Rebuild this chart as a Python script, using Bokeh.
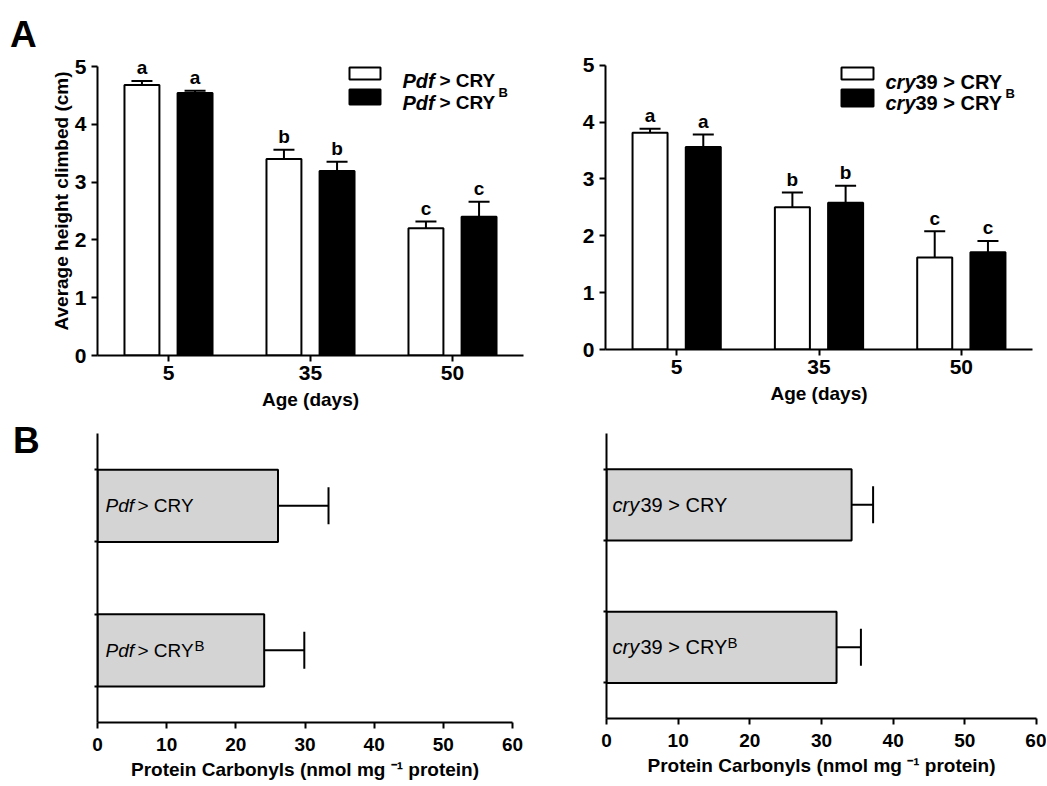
import numpy as np
from bokeh.plotting import figure
from bokeh.models import (Range1d, FixedTicker, Label, Whisker, TeeHead,
                          ColumnDataSource, BoxAnnotation, Div)
from bokeh.layouts import column, row
from bokeh.embed import file_html
from bokeh.resources import INLINE
from bokeh.core.properties import value

# ---------------- data ----------------
ages = ["5", "35", "50"]
letters = ["a", "b", "c"]

pdf_cry = [4.68, 3.40, 2.20]
pdf_cry_err = [0.07, 0.16, 0.12]
pdf_cryb = [4.54, 3.19, 2.40]
pdf_cryb_err = [0.04, 0.16, 0.26]

cry39_cry = [3.81, 2.50, 1.62]
cry39_cry_err = [0.07, 0.26, 0.46]
cry39_cryb = [3.56, 2.58, 1.71]
cry39_cryb_err = [0.22, 0.30, 0.20]

carb_groups = ["CRY", "CRY B"]
carb_pdf = [26.1, 24.1]
carb_pdf_err = [7.3, 5.8]
carb_cry39 = [34.2, 32.1]
carb_cry39_err = [3.0, 3.4]

FONT = "Liberation Sans"


def style_axes(p, tick_size, label_size):
    for ax in (p.xaxis[0], p.yaxis[0]):
        ax.axis_line_width = 2
        ax.axis_line_color = "black"
        ax.major_tick_line_width = 2
        ax.major_tick_line_color = "black"
        ax.major_tick_out = 6
        ax.major_tick_in = 0
        ax.minor_tick_line_color = None
        ax.major_label_text_font = FONT
        ax.major_label_text_font_style = "bold"
        ax.major_label_text_color = "black"
        ax.axis_label_text_font = FONT
        ax.axis_label_text_font_style = "bold"
        ax.axis_label_text_color = "black"
        ax.major_label_standoff = 5
        ax.axis_label_standoff = 6
    p.xaxis.major_label_text_font_size = tick_size[0]
    p.yaxis.major_label_text_font_size = tick_size[1]
    p.xaxis.axis_label_text_font_size = label_size[0]
    p.yaxis.axis_label_text_font_size = label_size[1]
    p.xgrid.grid_line_color = None
    p.ygrid.grid_line_color = None
    p.outline_line_color = None
    p.background_fill_color = "white"
    p.border_fill_color = "white"


def lbl(p, x, y, text, size, style, units="screen", **kw):
    p.add_layout(Label(x=x, y=y, x_units=units, y_units=units, text=text,
                       text_font=FONT, text_font_size=size,
                       text_font_style=style, text_color="black",
                       text_baseline=kw.pop("baseline", "alphabetic"), **kw))


def climb_panel(width, height, mb, y_end, white, white_err, black, black_err, ylabel):
    p = figure(width=width, height=height, output_backend="svg", toolbar_location=None,
               x_range=Range1d(0, 3), y_range=Range1d(0, y_end),
               min_border_left=mb[0], min_border_right=mb[1],
               min_border_top=mb[2], min_border_bottom=mb[3])
    centers = np.arange(len(ages)) + 0.5
    off, bw = 0.187, 0.246
    for vals, errs, fill, sgn in ((white, white_err, "white", -1), (black, black_err, "black", 1)):
        xs = centers + sgn * off
        up = np.array(vals) + np.array(errs)
        src = ColumnDataSource(dict(x=xs, top=vals, up=up, lab=letters))
        p.vbar(x="x", top="top", width=bw, source=src, fill_color=fill,
               line_color="black", line_width=2)
        p.add_layout(Whisker(source=src, base="x", lower="top", upper="up",
                             dimension="height", line_width=2, line_color="black",
                             lower_head=None,
                             upper_head=TeeHead(size=21, line_width=2, line_color="black")))
        p.text(x="x", y="up", text="lab", source=src, text_align="center",
               text_baseline="alphabetic", y_offset=-13, text_font=value(FONT),
               text_font_style="bold", text_font_size="19px", text_color="black")
    p.xaxis.ticker = FixedTicker(ticks=list(centers))
    p.xaxis.major_label_overrides = {float(c): a for c, a in zip(centers, ages)}
    p.yaxis.ticker = FixedTicker(ticks=[0, 1, 2, 3, 4, 5])
    p.yaxis.bounds = (0, 5)
    p.xaxis.axis_label = "Age (days)"
    if ylabel:
        p.yaxis.axis_label = ylabel
    style_axes(p, ("21px", "21px"), ("19px", "19px"))
    p.xaxis.major_label_standoff = 4
    p.yaxis.axis_label_standoff = 0
    return p


def carb_panel(width, height, mb, vals, errs):
    p = figure(width=width, height=height, output_backend="svg", toolbar_location=None,
               x_range=Range1d(0, 60), y_range=Range1d(0, 2),
               min_border_left=mb[0], min_border_right=mb[1],
               min_border_top=mb[2], min_border_bottom=mb[3])
    n = len(vals)
    ys = n - np.arange(n) - 0.5
    src = ColumnDataSource(dict(y=ys, right=vals, up=np.array(vals) + np.array(errs)))
    p.hbar(y="y", right="right", left=0, height=0.5, source=src,
           fill_color="#d4d4d4", line_color="black", line_width=2)
    p.add_layout(Whisker(source=src, base="y", lower="right", upper="up",
                         dimension="width", line_width=2, line_color="black",
                         lower_head=None,
                         upper_head=TeeHead(size=37, line_width=2, line_color="black")))
    p.xaxis.ticker = FixedTicker(ticks=list(range(0, 61, 10)))
    edges = []
    for y in ys:
        edges += [float(y - 0.25), float(y + 0.25)]
    p.yaxis.ticker = FixedTicker(ticks=sorted(edges))
    p.yaxis.major_label_overrides = {e: "" for e in edges}
    p.xaxis.axis_label = "Protein Carbonyls (nmol mg \u207b\u00b9 protein)"
    style_axes(p, ("19px", "10px"), ("19px", "10px"))
    p.yaxis.major_tick_out = 3
    p.xaxis.major_label_standoff = 9
    p.xaxis.axis_label_standoff = 5
    return p


# ---------------- panels ----------------
# frames: p1 y=5 at 66, y=0 at 355 ; p2 y=5 at 64.7, y=0 at 349.3 (frame tops at 46)
p1 = climb_panel(518, 431, (52, 40, 46, 76), 5 + 20 / 57.8,
                 pdf_cry, pdf_cry_err, pdf_cryb, pdf_cryb_err,
                 "Average height climbed (cm)")
p2 = climb_panel(477, 431, (42, 8, 46, 82), 5 + 18.7 / 56.92,
                 cry39_cry, cry39_cry_err, cry39_cryb, cry39_cryb_err, None)
p3 = carb_panel(518, 354, (52, 51, 2, 63), carb_pdf, carb_pdf_err)
p4 = carb_panel(483, 354, (43, 10, 2, 67), carb_cry39, carb_cry39_err)

# legends (top panels)
def legend_boxes(p, x0, x1, wy, by):
    for (b, t), fill in ((wy, "white"), (by, "black")):
        p.add_layout(BoxAnnotation(left=x0, right=x1, bottom=b, top=t,
                                   left_units="screen", right_units="screen",
                                   bottom_units="screen", top_units="screen",
                                   fill_color=fill, fill_alpha=1, line_color="black",
                                   line_width=2, line_alpha=1))

legend_boxes(p1, 252, 283, (276, 288), (251, 266))
lbl(p1, 305, 275, "Pdf", "20px", "bold italic")
lbl(p1, 342, 275, "> CRY", "19px", "bold")
lbl(p1, 305, 253, "Pdf", "20px", "bold italic")
lbl(p1, 342, 253, "> CRY", "19px", "bold")
lbl(p1, 401, 263, "B", "13px", "bold")

legend_boxes(p2, 236, 268, (270, 282), (243, 260))
lbl(p2, 280, 268, "cry", "20px", "bold italic")
lbl(p2, 310, 268, "39 > CRY", "20px", "bold")
lbl(p2, 280, 247, "cry", "20px", "bold italic")
lbl(p2, 310, 247, "39 > CRY", "20px", "bold")
lbl(p2, 400, 256, "B", "13px", "bold")

# labels inside the carbonyl bars
ys = len(carb_groups) - np.arange(len(carb_groups)) - 0.5
for p, pre, pre_dx, rest, rest_dx, sup_dx, fs in (
        (p3, "Pdf", 8, "> CRY", 40, 97, "19px"),
        (p4, "cry", 6, "39 > CRY", 34, 121, "20px")):
    for y in ys:
        lbl(p, 0, float(y), pre, fs, "italic", units="data", x_offset=pre_dx,
            baseline="middle")
        lbl(p, 0, float(y), rest, fs, "normal", units="data", x_offset=rest_dx,
            baseline="middle")
    lbl(p, 0, float(ys[1]), "B", "15px", "normal", units="data", x_offset=sup_dx,
        y_offset=5, baseline="alphabetic")

# panel letters
letters_div = Div(
    text=('<div style="position:relative;width:45px;height:780px;'
          "font-family:'Liberation Sans',Arial,sans-serif;font-weight:bold;"
          'font-size:37px;line-height:37px;color:black">'
          '<div style="position:absolute;left:10px;top:16px">A</div>'
          '<div style="position:absolute;left:13px;top:422px">B</div></div>'),
    width=45, height=780, margin=(0, 0, 0, 0))

layout = row(letters_div,
             column(row(column(p1), column(p2), spacing=0),
                    row(column(p3), column(p4), spacing=0), spacing=0),
             spacing=0)
open("out.html", "w").write(file_html(layout, INLINE))
